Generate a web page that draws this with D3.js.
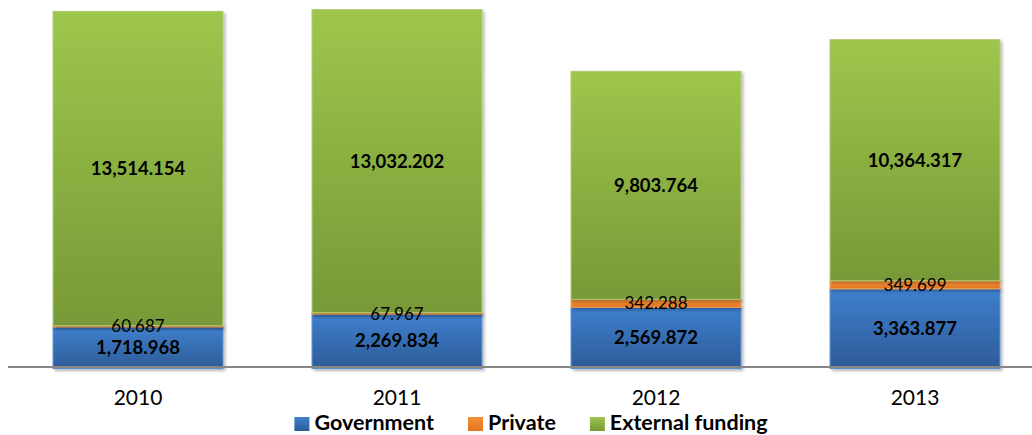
<!DOCTYPE html>
<html>
<head>
<meta charset="utf-8">
<script src="https://cdn.jsdelivr.net/npm/d3@7"></script>
<style>
  html, body { margin: 0; padding: 0; background: #fff; }
  svg { display: block; font-family: Lato, "Open Sans", sans-serif; }
</style>
</head>
<body>
<svg id="chart" width="1032" height="435"></svg>
<script>
// Funding by source, per year
const years = ["2010", "2011", "2012", "2013"];
const government = [1718.968, 2269.834, 2569.872, 3363.877];
const privateFunds = [60.687, 67.967, 342.288, 349.699];
const external = [13514.154, 13032.202, 9803.764, 10364.317];
const seriesNames = ["Government", "Private", "External funding"];

const series = [
  { key: "gov", name: seriesNames[0], values: government, top: "#3f7fcd", bottom: "#2d5c98", edge: "#5b8fd0", bold: true, size: 18.5 },
  { key: "pri", name: seriesNames[1], values: privateFunds, top: "#f4903a", bottom: "#e4761f", edge: "#f5a25a", bold: false, size: 17 },
  { key: "ext", name: seriesNames[2], values: external, top: "#9ec64c", bottom: "#779937", edge: "#acc96f", bold: true, size: 18.5 }
];

const svg = d3.select("#chart");
const baseY = 367;

const x = d3.scaleBand().domain(years).range([8.5, 1044.5]).paddingInner(0.344).paddingOuter(0.172);
const y = d3.scaleLinear().domain([0, 16000]).range([baseY, -5]);

// gradients and shadow
const defs = svg.append("defs");
series.forEach(s => {
  const g = defs.append("linearGradient").attr("id", "grad-" + s.key)
    .attr("x1", 0).attr("y1", 0).attr("x2", 0).attr("y2", 1);
  g.append("stop").attr("offset", "0%").attr("stop-color", s.top);
  g.append("stop").attr("offset", "100%").attr("stop-color", s.bottom);
});
const shadow = defs.append("filter").attr("id", "shadow")
  .attr("x", "-5%").attr("y", "-5%").attr("width", "115%").attr("height", "115%");
shadow.append("feGaussianBlur").attr("in", "SourceAlpha").attr("stdDeviation", 1.6);
shadow.append("feOffset").attr("dx", 2).attr("dy", 1.5).attr("result", "ob");
shadow.append("feComponentTransfer").append("feFuncA").attr("type", "linear").attr("slope", 0.28);
const merge = shadow.append("feMerge");
merge.append("feMergeNode");
merge.append("feMergeNode").attr("in", "SourceGraphic");

// stack
const rows = years.map((yr, i) => ({ year: yr, gov: government[i], pri: privateFunds[i], ext: external[i] }));
const stacked = d3.stack().keys(["gov", "pri", "ext"])(rows);

const barsG = svg.append("g");
stacked.forEach((layer, li) => {
  const s = series[li];
  barsG.append("g").attr("filter", "url(#shadow)")
    .selectAll("rect").data(layer).join("rect")
    .attr("x", d => x(d.data.year))
    .attr("width", x.bandwidth())
    .attr("y", d => y(d[1]))
    .attr("height", d => y(d[0]) - y(d[1]) + (li === 0 ? 1.5 : 0))
    .attr("fill", `url(#grad-${s.key})`)
    .attr("stroke", s.edge)
    .attr("stroke-width", 1);
});

// baseline
svg.append("line")
  .attr("x1", 8).attr("x2", 1032).attr("y1", baseY).attr("y2", baseY)
  .attr("stroke", "#878787").attr("stroke-width", 2);

// data labels
const fmt = d3.format(",.3f");
stacked.forEach((layer, li) => {
  const s = series[li];
  svg.append("g").selectAll("text").data(layer).join("text")
    .attr("x", d => x(d.data.year) + x.bandwidth() / 2)
    .attr("y", d => (y(d[0]) + y(d[1])) / 2)
    .attr("dy", "0.36em")
    .attr("text-anchor", "middle")
    .attr("font-size", s.size)
    .attr("font-weight", s.bold ? 700 : 400)
    .attr("fill", "#000")
    .text(d => fmt(d[1] - d[0]));
});

// category axis labels
const xAxis = svg.append("g").attr("transform", `translate(0,${baseY})`)
  .call(d3.axisBottom(x).tickSize(0).tickPadding(0));
xAxis.select(".domain").remove();
xAxis.selectAll("text")
  .attr("y", 30)
  .attr("dy", "0.36em")
  .attr("font-family", "Lato, 'Open Sans', sans-serif")
  .attr("font-size", 21)
  .attr("fill", "#000");

// legend
const legend = svg.append("g").attr("transform", "translate(0,423)");
const items = legend.selectAll("g").data(series).join("g");
items.append("rect").attr("width", 15).attr("height", 14).attr("y", -6)
  .attr("fill", d => `url(#grad-${d.key})`);
items.append("text").attr("x", 20).attr("y", 7)
  .attr("font-size", 21.5).attr("font-weight", 700).attr("fill", "#000")
  .text(d => d.name);
let cx = 0;
const offsets = [];
items.each(function() {
  offsets.push(cx);
  const w = 20 + d3.select(this).select("text").node().getComputedTextLength();
  cx += w + 34;
});
const total = cx - 34;
const startX = 531 - total / 2;
items.attr("transform", (d, i) => `translate(${startX + offsets[i]},0)`);
</script>
</body>
</html>
